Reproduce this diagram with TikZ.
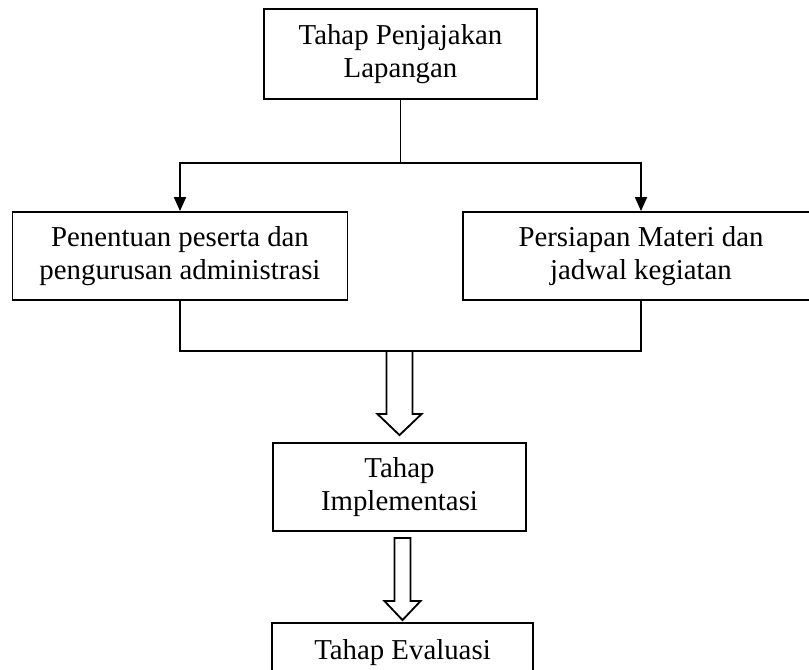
\documentclass[tikz,border=0pt]{standalone}
\usepackage{fontspec}
\setmainfont{Liberation Serif}
\usetikzlibrary{arrows.meta,calc,positioning}

\begin{document}
\begin{tikzpicture}[
		x=0.025cm, y=-0.025cm,
		box/.style   = { rectangle, draw=black, line width=1.3pt, align=center,
			font=\fontsize{20.5}{23.5}\selectfont, inner sep=0pt },
		line/.style  = { draw, line width=1.3pt },
		arrow/.style = { line, -{Triangle[length=0.35cm, width=0.3cm]} },
		hollow/.style = { draw, line width=1.3pt, fill=white },
	]
	\clip (0,0) rectangle (809,670);
	\useasboundingbox (0,0) rectangle (809,670);
	% Define nodes
	\begin{scope}
		\node [box, minimum width=6.825cm, minimum height=2.25cm] (survey) at (400.5,54) {Tahap Penjajakan\\Lapangan};
		\node [box, minimum width=8.375cm, minimum height=2.2cm] (peserta) at (180,256) {Penentuan peserta dan\\pengurusan administrasi};
		\node [box, minimum width=8.9cm, minimum height=2.2cm] (materi) at (641,256) {Persiapan Materi dan\\jadwal kegiatan};
		\node [box, minimum width=6.325cm, minimum height=2.2cm] (impl) at (399.5,487) {Tahap\\Implementasi};
		\node [box, minimum width=6.525cm, minimum height=1.5cm] (eval) at (402.5,653) {Tahap Evaluasi};
		\coordinate (split) at (survey.south |- 0,163);
		\coordinate (join) at (impl.north |- 0,351);
		\coordinate (gap) at (eval.north |- impl.south);
	\end{scope}
	% connect all nodes defined above
	\begin{scope}
		\path [line] (survey.south) -- (split);
		\path [arrow] (split) -| (peserta.north);
		\path [arrow] (split) -| (materi.north);
		\path [line] (peserta.south) |- (join) -| (materi.south);
		\draw [hollow] ($(join)+(-13,0)$) -- ($(impl.north)+(-13,-28)$) -- ($(impl.north)+(-22,-28)$)
			-- ($(impl.north)+(0,-7)$) -- ($(impl.north)+(22,-28)$) -- ($(impl.north)+(13,-28)$)
			-- ($(join)+(13,0)$) -- cycle;
		\draw [hollow] ($(gap)+(-8,6)$) -- ($(eval.north)+(-8,-21)$) -- ($(eval.north)+(-18,-21)$)
			-- ($(eval.north)+(0,-2)$) -- ($(eval.north)+(18,-21)$) -- ($(eval.north)+(8,-21)$)
			-- ($(gap)+(8,6)$) -- cycle;
	\end{scope}
\end{tikzpicture}
\end{document}
